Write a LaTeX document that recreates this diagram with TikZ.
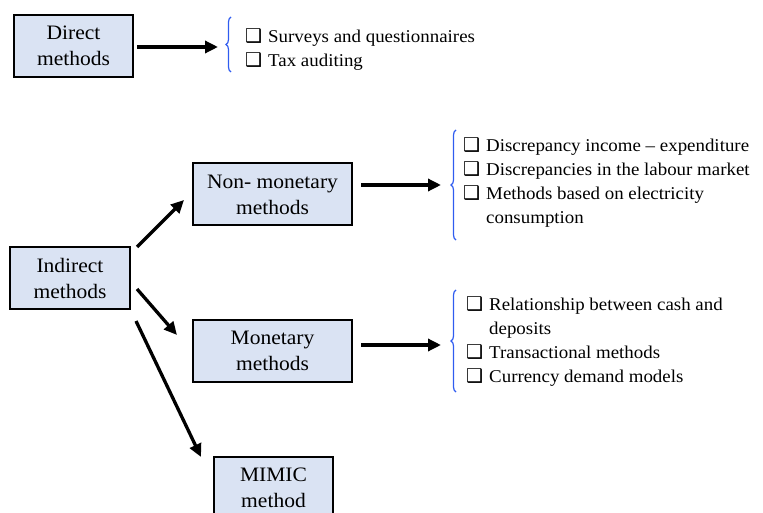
\documentclass[tikz,border=0pt]{standalone}
\usepackage{fontspec}
\setmainfont{Liberation Serif}[FakeStretch=1.05]
\newfontfamily\symfont{DejaVu Sans}
\usetikzlibrary{arrows.meta,positioning,calc,decorations.pathreplacing}
\definecolor{boxblue}{HTML}{DAE3F3}
\definecolor{braceblue}{HTML}{2F5CF0}
\newcommand{\chk}{\makebox[23pt][l]{\symfont\fontsize{19}{19}\selectfont ❑}}
\newcommand{\chkgap}{\hspace*{23pt}}
\tikzset{
  method/.style={rectangle, draw=black, line width=2pt, fill=boxblue, align=center, minimum height=62pt, font=\fontsize{20.5}{26}\selectfont},
  listing/.style={align=left, inner sep=0pt, anchor=west, font=\fontsize{18}{24}\selectfont},
  arrow/.style={-{Triangle[length=13pt,width=12pt]}, line width=3.3pt},
  bracket/.style={decorate, decoration={brace, amplitude=5pt}, draw=braceblue, line width=1.2pt}
}
\begin{document}
\begin{tikzpicture}[x=1pt, y=-1pt]
  \useasboundingbox (0,0) rectangle (763,513);
  \clip (0,0) rectangle (763,513);

  % method boxes
  \node[method, minimum width=119pt] (direct) at (73.5,46) {Direct\\methods};
  \node[method, minimum width=120pt] (indirect) at (70,278) {Indirect\\methods};
  \node[method, minimum width=159pt] (nonmon) at (272.5,194.5) {Non- monetary\\methods};
  \node[method, minimum width=159pt] (mon) at (272.5,351) {Monetary\\methods};
  \node[method, minimum width=119pt] (mimic) at (273.5,488) {MIMIC\\method};

  % lists
  \node[listing] (dirlist) at (245,50) {\chk Surveys and questionnaires\\\chk Tax auditing};
  \node[listing] (nonlist) at (463,182) {\chk Discrepancy income -- expenditure\\\chk Discrepancies in the labour market\\\chk Methods based on electricity\\\chkgap consumption};
  \node[listing] (monlist) at (466,342) {\chk Relationship between cash and\\\chkgap deposits\\\chk Transactional methods\\\chk Currency demand models};

  % braces
  \draw[bracket] (231,72) -- (231,17);
  \draw[bracket] (456,240) -- (456,130);
  \draw[bracket] (456,392) -- (456,290);
  \coordinate (dirtip) at (218,47);
  \coordinate (nontip) at (441,185);
  \coordinate (montip) at (441,345);

  % connectors
  \draw[arrow] ($(direct.east)+(3,1)$) -- (dirtip);
  \draw[arrow] ($(nonmon.east)+(8,-9.5)$) -- (nontip);
  \draw[arrow] ($(mon.east)+(8,-6)$) -- (montip);
  \draw[arrow] ($(indirect.north east)+(6,1)$) -- ($(nonmon.west)+(-8,5.5)$);
  \draw[arrow] ($(indirect.east)+(6,11)$) -- ($(mon.west)+(-15,-16)$);
  \draw[arrow] ($(indirect.south east)+(5,11)$) -- ($(mimic.north west)+(-12,1)$);
\end{tikzpicture}
\end{document}
